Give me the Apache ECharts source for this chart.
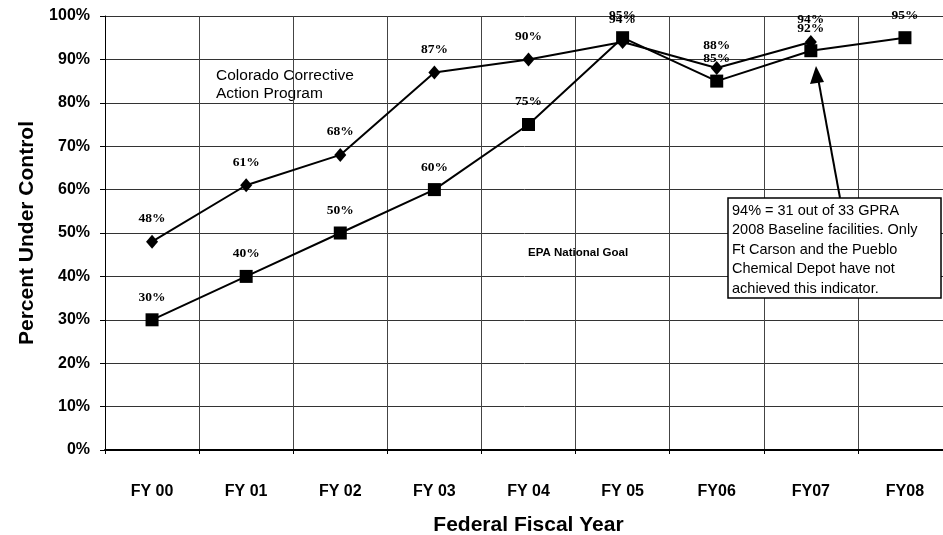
<!DOCTYPE html>
<html>
<head>
<meta charset="utf-8">
<script src="https://cdn.jsdelivr.net/npm/echarts@6/dist/echarts.min.js"></script>
<style>
  html, body { margin: 0; padding: 0; background: #fff; }
  #main { width: 943px; height: 535px; }
</style>
</head>
<body>
<div id="main"></div>
<script>
// categories and values
var years = ['FY 00', 'FY 01', 'FY 02', 'FY 03', 'FY 04', 'FY 05', 'FY06', 'FY07', 'FY08'];
var colorado = [48, 61, 68, 87, 90, 94, 88, 94, null];
var epaGoal = [30, 40, 50, 60, 75, 95, 85, 92, 95];
var yTicks = [0, 10, 20, 30, 40, 50, 60, 70, 80, 90, 100];

var chart = echarts.init(document.getElementById('main'));

var labelStyle = {
  show: true,
  position: 'top',
  distance: 9,
  color: '#000',
  fontFamily: 'Liberation Serif',
  fontWeight: 'bold',
  fontSize: 13.5,
  formatter: function (p) { return p.value + '%'; }
};

var option = {
  animation: false,
  backgroundColor: '#fff',
  // plot runs past the right edge of the picture, like the scan
  grid: { left: 105, width: 847, top: 16, bottom: 85, outerBoundsMode: 'none', containLabel: false },
  xAxis: {
    type: 'category',
    data: years,
    boundaryGap: true,
    name: 'Federal Fiscal Year',
    nameLocation: 'middle',
    nameGap: 65,
    nameTextStyle: { fontFamily: 'Liberation Sans', fontWeight: 'bold', fontSize: 21, color: '#000' },
    axisLine: { lineStyle: { color: '#000', width: 2 } },
    axisTick: { show: true, length: 4, lineStyle: { color: '#000' } },
    axisLabel: { margin: 34, fontFamily: 'Liberation Sans', fontWeight: 'bold', fontSize: 16, color: '#000' },
    splitLine: { show: true, lineStyle: { color: '#444', width: 1 } }
  },
  yAxis: {
    type: 'value',
    min: yTicks[0],
    max: yTicks[yTicks.length - 1],
    interval: 10,
    name: 'Percent Under Control',
    nameLocation: 'middle',
    nameRotate: 90,
    nameGap: 65,
    nameTextStyle: { fontFamily: 'Liberation Sans', fontWeight: 'bold', fontSize: 21, color: '#000' },
    axisLine: { show: true, lineStyle: { color: '#000', width: 1 } },
    axisTick: { show: true, length: 5, lineStyle: { color: '#000' } },
    axisLabel: { margin: 15, formatter: '{value}%', fontFamily: 'Liberation Sans', fontWeight: 'bold', fontSize: 16, color: '#000' },
    splitLine: { show: true, lineStyle: { color: '#333', width: 1 } }
  },
  series: [
    {
      name: 'Colorado Corrective Action Program',
      type: 'line',
      data: colorado,
      symbol: 'diamond',
      symbolSize: [12, 14],
      lineStyle: { color: '#000', width: 2 },
      itemStyle: { color: '#000' },
      label: labelStyle,
      z: 3
    },
    {
      name: 'EPA National Goal',
      type: 'line',
      data: epaGoal,
      symbol: 'rect',
      symbolSize: 13,
      lineStyle: { color: '#000', width: 2 },
      itemStyle: { color: '#000' },
      label: labelStyle,
      z: 4
    }
  ],
  graphic: [
    {
      type: 'text', left: 216, top: 67,
      style: {
        text: 'Colorado Corrective\nAction Program',
        align: 'center', lineHeight: 18,
        font: '15.5px "Liberation Sans"', fill: '#000'
      }
    },
    {
      type: 'text', left: 528, top: 247,
      style: { text: 'EPA National Goal', font: 'bold 11.5px "Liberation Sans"', fill: '#000' }
    },
    {
      type: 'line', z: 10,
      shape: { x1: 840, y1: 198, x2: 818, y2: 78 },
      style: { stroke: '#000', lineWidth: 2 }
    },
    {
      type: 'polygon', z: 10,
      shape: { points: [[816, 66], [810, 84], [824, 82]] },
      style: { fill: '#000' }
    },
    {
      type: 'rect', z: 11,
      shape: { x: 728, y: 198, width: 213, height: 100 },
      style: { fill: '#fff', stroke: '#000', lineWidth: 1.5 }
    },
    {
      type: 'text', z: 12, left: 732, top: 201,
      style: {
        text: '94% = 31 out of 33 GPRA\n2008 Baseline facilities. Only\nFt Carson and the Pueblo\nChemical Depot have not\nachieved this indicator.',
        lineHeight: 19.5,
        font: '14.5px "Liberation Sans"', fill: '#000'
      }
    }
  ]
};

chart.setOption(option);
</script>
</body>
</html>
